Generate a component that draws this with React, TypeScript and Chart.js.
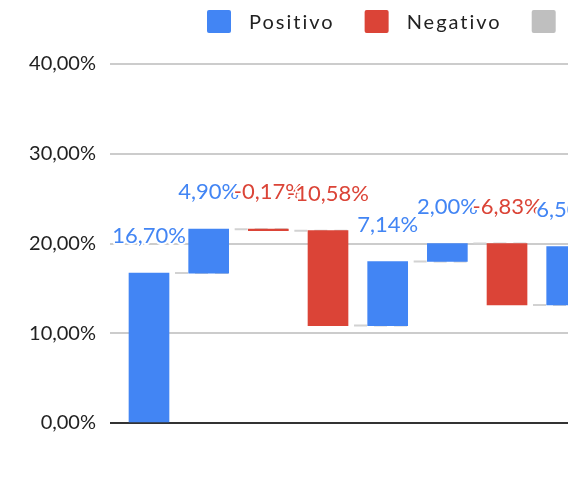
import React, { useEffect, useRef } from "react";
import { Chart, registerables } from "chart.js";

Chart.register(...registerables);

// ---- data ----
const stepValues: number[] = [16.7, 4.9, -0.17, -10.58, 7.14, 2.0, -6.83, 6.5];
const seriesNames: string[] = ["Positivo", "Negativo", "Subtotal"];
const seriesColors: string[] = ["#4285f4", "#db4437", "#bfbfbf"];
const yTickValues: number[] = [0, 10, 20, 30, 40];

const fmt = (v: number) => v.toFixed(2).replace(".", ",") + "%";

const FONT = "Lato, 'Open Sans', sans-serif";
const LEGEND_X = 207;

const legendPlugin = {
  id: "customLegend",
  afterDraw(chart: any) {
    const ctx = chart.ctx as CanvasRenderingContext2D;
    ctx.save();
    ctx.font = `20px ${FONT}`;
    (ctx as any).letterSpacing = "2px";
    ctx.textBaseline = "alphabetic";
    ctx.textAlign = "left";
    let x = LEGEND_X;
    chart.data.datasets.forEach((ds: any) => {
      ctx.fillStyle = ds.backgroundColor;
      ctx.beginPath();
      (ctx as any).roundRect(x, 10, 24, 23, 2);
      ctx.fill();
      x += 24 + 18;
      const w = ctx.measureText(ds.label).width;
      if (x + w <= chart.width) {
        ctx.fillStyle = "#222222";
        ctx.fillText(ds.label, x, 28.5);
      }
      x += w + 30;
    });
    ctx.restore();
  },
};

function collectBars(chart: any) {
  const items: any[] = [];
  chart.data.datasets.forEach((ds: any, di: number) => {
    const meta = chart.getDatasetMeta(di);
    meta.data.forEach((el: any, i: number) => {
      const raw = ds.data[i];
      items.push({
        x: el.x,
        top: Math.min(el.y, el.base),
        end: raw.y[1],
        v: raw.v,
        order: raw.x,
        color: ds.labelColor,
      });
    });
  });
  items.sort((a, b) => a.order - b.order);
  return items;
}

const connectorPlugin = {
  id: "connectors",
  beforeDatasetsDraw(chart: any) {
    const ctx = chart.ctx as CanvasRenderingContext2D;
    const ca = chart.chartArea;
    const ys = chart.scales.y;
    const items = collectBars(chart);
    ctx.save();
    ctx.beginPath();
    ctx.rect(ca.left, ca.top, ca.right - ca.left, ca.bottom - ca.top);
    ctx.clip();
    ctx.strokeStyle = "#d2d2d2";
    ctx.lineWidth = 2;
    ctx.setLineDash([13, 7]);
    for (let i = 0; i < items.length - 1; i++) {
      const y = ys.getPixelForValue(items[i].end);
      ctx.beginPath();
      ctx.moveTo(items[i].x + 20 + 6, y);
      ctx.lineTo(items[i + 1].x + 20, y);
      ctx.stroke();
    }
    ctx.restore();
  },
};

const labelPlugin = {
  id: "barLabels",
  afterDatasetsDraw(chart: any) {
    const ctx = chart.ctx as CanvasRenderingContext2D;
    const ca = chart.chartArea;
    const items = collectBars(chart);
    ctx.save();
    ctx.beginPath();
    ctx.rect(0, 0, ca.right, chart.height);
    ctx.clip();
    ctx.font = `22px ${FONT}`;
    ctx.textAlign = "center";
    ctx.textBaseline = "alphabetic";
    ctx.lineJoin = "round";
    ctx.lineWidth = 4;
    ctx.strokeStyle = "#ffffff";
    items.forEach((it) => {
      const t = fmt(it.v);
      const y = it.top - 30;
      ctx.strokeText(t, it.x, y);
      ctx.fillStyle = it.color;
      ctx.fillText(t, it.x, y);
    });
    ctx.restore();
  },
};

export default function App() {
  const ref = useRef<HTMLCanvasElement>(null);

  useEffect(() => {
    if (!ref.current) return;
    const pos: any[] = [];
    const neg: any[] = [];
    let run = 0;
    stepValues.forEach((v, i) => {
      const start = run;
      run = Math.round((run + v) * 100) / 100;
      const pt = { x: i, y: [start, run], v };
      (v >= 0 ? pos : neg).push(pt);
    });
    const tot = [{ x: stepValues.length, y: [0, run], v: run }];

    const mk = (label: string, color: string, data: any[], labelColor: string) => ({
      label,
      data,
      backgroundColor: color,
      labelColor,
      borderWidth: 0,
      grouped: false,
      barThickness: 40,
      clip: 0,
    });

    const chart = new Chart(ref.current, {
      type: "bar",
      data: {
        datasets: [
          mk(seriesNames[0], seriesColors[0], pos, seriesColors[0]),
          mk(seriesNames[1], seriesColors[1], neg, seriesColors[1]),
          mk(seriesNames[2], seriesColors[2], tot, "#666666"),
        ] as any,
      },
      options: {
        animation: false,
        responsive: false,
        events: [],
        layout: { padding: { top: 64, bottom: 59, right: 13, left: 0 } },
        plugins: {
          legend: { display: false },
          tooltip: { enabled: false },
        },
        scales: {
          x: {
            type: "linear",
            min: -0.6536,
            max: 7.022,
            bounds: "data",
            offset: false,
            display: false,
          },
          y: {
            min: 0,
            max: 40,
            afterBuildTicks: (s: any) => {
              s.ticks = yTickValues.map((v) => ({ value: v }));
            },
            afterFit: (s: any) => {
              s.width = 110;
            },
            ticks: {
              callback: (v: any) => fmt(Number(v)),
              font: { family: FONT, size: 20 },
              color: "#222222",
              padding: 14,
            },
            grid: {
              color: (c: any) => (c.tick && c.tick.value === 0 ? "#333333" : "#cccccc"),
              lineWidth: 2,
              drawTicks: false,
            },
            border: { display: false },
          },
        },
      } as any,
      plugins: [connectorPlugin, labelPlugin, legendPlugin],
    });
    return () => chart.destroy();
  }, []);

  return (
    <div style={{ position: "absolute", left: 0, top: 0, width: 581, height: 482 }}>
      <canvas ref={ref} width={581} height={482} />
    </div>
  );
}
